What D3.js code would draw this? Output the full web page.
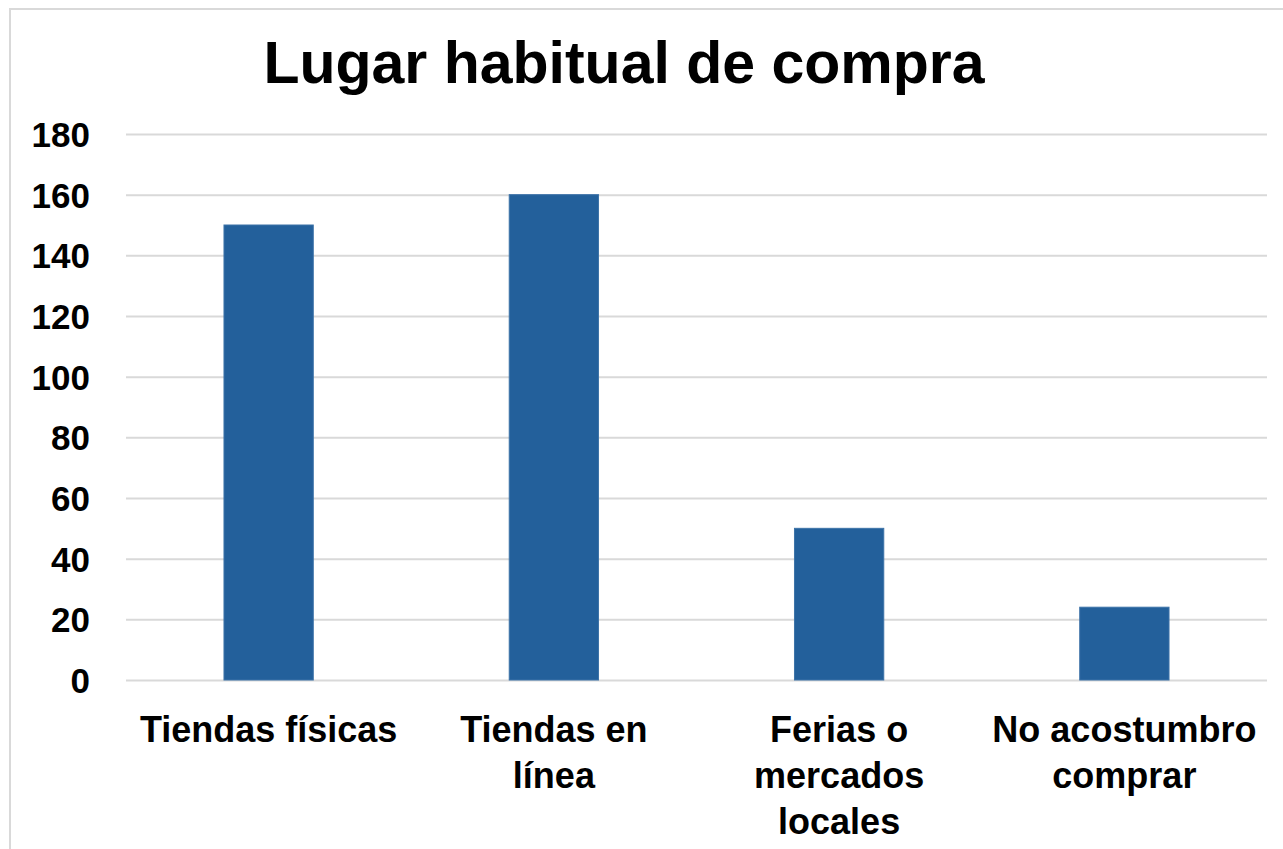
<!DOCTYPE html>
<html>
<head>
<meta charset="utf-8">
<script src="https://cdn.jsdelivr.net/npm/d3@7"></script>
<style>
  html, body { margin: 0; padding: 0; background: #ffffff; }
  svg { display: block; }
  text { font-family: "Century Gothic", "Liberation Sans", Arial, sans-serif; font-weight: bold; fill: #000; }
</style>
</head>
<body>
<svg id="chart" width="1283" height="849"></svg>
<script>
const title = "Lugar habitual de compra";
const categories = ["Tiendas físicas", "Tiendas en línea", "Ferias o mercados locales", "No acostumbro comprar"];
const categoryLines = [["Tiendas físicas"], ["Tiendas en", "línea"], ["Ferias o", "mercados", "locales"], ["No acostumbro", "comprar"]];
const values = [150, 160, 50, 24];
const yTicks = [0, 20, 40, 60, 80, 100, 120, 140, 160, 180];

const svg = d3.select("#chart");
const W = 1283, H = 849;
const plot = { left: 126, right: 1267, top: 134, bottom: 680 };

svg.append("rect")
  .attr("x", 10).attr("y", 9)
  .attr("width", W + 20).attr("height", H + 20)
  .attr("fill", "#ffffff")
  .attr("stroke", "#d9d9d9").attr("stroke-width", 2);

svg.append("text")
  .attr("x", 624).attr("y", 83)
  .attr("text-anchor", "middle")
  .style("font-size", "59px")
  .text(title);

const x = d3.scaleBand().domain(categories).range([plot.left, plot.right]).padding(0);
const y = d3.scaleLinear().domain([0, 180]).range([plot.bottom, plot.top]);

const yAxis = d3.axisLeft(y)
  .tickValues(yTicks)
  .tickSize(-(plot.right - plot.left))
  .tickPadding(36)
  .tickFormat(d3.format("d"));

const gy = svg.append("g")
  .attr("transform", `translate(${plot.left},0)`)
  .call(yAxis);
gy.select(".domain").remove();
gy.selectAll(".tick line").attr("stroke", "#d9d9d9").attr("stroke-width", 2);
gy.selectAll(".tick text")
  .style("font-size", "35px")
  .style("font-family", "\"Century Gothic\", \"Liberation Sans\", Arial, sans-serif")
  .style("font-weight", "bold")
  .attr("fill", "#000")
  .attr("dy", "0.36em");

const barW = x.bandwidth() * 0.313;
svg.append("g").selectAll("rect")
  .data(values)
  .join("rect")
  .attr("x", (d, i) => x(categories[i]) + x.bandwidth() / 2 - barW / 2)
  .attr("y", d => y(d))
  .attr("width", barW)
  .attr("height", d => y(0) - y(d))
  .attr("fill", "#23609b")
  .attr("stroke", "#3d73a8")
  .attr("stroke-width", 1);

const xAxis = d3.axisBottom(x).tickSize(0).tickFormat("");
const gx = svg.append("g")
  .attr("transform", `translate(0,${plot.bottom})`)
  .call(xAxis);
gx.select(".domain").remove();
gx.selectAll(".tick text").remove();
gx.selectAll(".tick").each(function(d, i) {
  const t = d3.select(this).append("text")
    .attr("text-anchor", "middle")
    .style("font-size", "36px");
  categoryLines[i].forEach((line, j) => {
    t.append("tspan").attr("x", 0).attr("y", 62 + j * 46).text(line);
  });
});
</script>
</body>
</html>
